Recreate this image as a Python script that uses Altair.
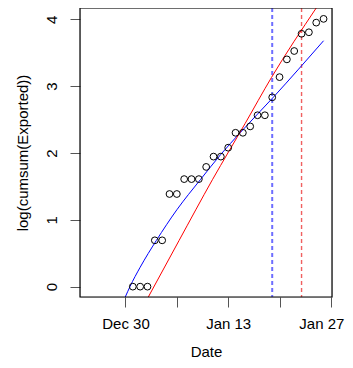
import altair as alt
import numpy as np
import pandas as pd

# Observed points: dates and cumulative exported counts
obs_dates = ["2019-12-31", "2020-01-01", "2020-01-02", "2020-01-03", "2020-01-04",
             "2020-01-05", "2020-01-06", "2020-01-07", "2020-01-08", "2020-01-09",
             "2020-01-10", "2020-01-11", "2020-01-12", "2020-01-13", "2020-01-14",
             "2020-01-15", "2020-01-16", "2020-01-17", "2020-01-18", "2020-01-19",
             "2020-01-20", "2020-01-21", "2020-01-22", "2020-01-23", "2020-01-24",
             "2020-01-25", "2020-01-26"]
cum_exported = [1, 1, 1, 2, 2, 4, 4, 5, 5, 5, 6, 7, 7, 8, 10, 10, 11, 13, 13, 17,
                23, 30, 34, 44, 45, 52, 55]

# Fitted curves (days since Dec 30, log value)
blue_t = [-0.03, 0.61, 2.0, 4.2, 7.0, 10.2, 13.0, 15.6, 20.2, 27.0]
blue_y = [-0.155, 0.0, 0.29, 0.69, 1.15, 1.60, 1.98, 2.30, 2.84, 3.68]
red_t = [3.11, 7.3, 11.85, 16.3, 19.9, 26.0]
red_y = [-0.155, 0.69, 1.60, 2.44, 3.13, 4.17]

# Vertical reference lines (days since Dec 30)
vline_t = [20, 24]
vline_color = ["#6e6eff", "#f06060"]
vline_width = [2.0, 1.4]

# Axis ticks
x_tick_vals = [0, 7, 14, 21, 28]
x_tick_labels = ["Dec 30", "", "Jan 13", "", "Jan 27"]
y_tick_vals = [0, 1, 2, 3, 4]

origin = pd.Timestamp("2019-12-30")
pts = pd.DataFrame({
    "t": [(pd.Timestamp(d) - origin).days for d in obs_dates],
    "y": np.log(cum_exported),
})
blue = pd.DataFrame({"t": blue_t, "y": blue_y})
red = pd.DataFrame({"t": red_t, "y": red_y})

FONT = "Liberation Sans"
xdom = [-6.2, 28.15]
ydom = [-0.155, 4.17]

label_map = "{" + ",".join(f"'{v}':'{l}'" for v, l in zip(x_tick_vals, x_tick_labels)) + "}"

xscale = alt.Scale(domain=xdom, nice=False, zero=False)
yscale = alt.Scale(domain=ydom, nice=False, zero=False)

xaxis = alt.Axis(values=x_tick_vals, labelExpr=f"{label_map}[datum.value]",
                 title="Date", grid=False, domain=False, tickSize=10,
                 tickColor="#555555", labelFont=FONT, labelFontSize=15,
                 labelColor="black", titleFont=FONT, titleFontSize=15,
                 titleFontWeight="normal", labelPadding=9, titlePadding=13,
                 labelFlush=4, labelFlushOffset=13, labelOverlap=False)
yaxis = alt.Axis(values=y_tick_vals, format="d", title="log(cumsum(Exported))",
                 grid=False, domain=False, tickSize=10, tickColor="#555555",
                 labelFont=FONT, labelFontSize=15, labelColor="black",
                 labelAngle=-90, labelAlign="center", labelBaseline="bottom",
                 labelPadding=11, titleFont=FONT, titleFontSize=15,
                 titleFontWeight="normal", titlePadding=14, labelFlush=False)

points = alt.Chart(pts).mark_point(shape="circle", filled=False, color="black",
                                   size=46, strokeWidth=1, opacity=1).encode(
    x=alt.X("t:Q", scale=xscale, axis=xaxis),
    y=alt.Y("y:Q", scale=yscale, axis=yaxis),
)

blue_line = alt.Chart(blue).mark_line(color="#0000ff", strokeWidth=1, clip=True,
                                      interpolate="monotone").encode(
    x=alt.X("t:Q", scale=xscale), y=alt.Y("y:Q", scale=yscale))
red_line = alt.Chart(red).mark_line(color="#ff0000", strokeWidth=1, clip=True,
                                    interpolate="monotone").encode(
    x=alt.X("t:Q", scale=xscale), y=alt.Y("y:Q", scale=yscale))

vdf = pd.DataFrame({"t": vline_t, "c": vline_color, "w": vline_width})
vlines = alt.Chart(vdf).mark_rule(strokeDash=[4, 3]).encode(
    x=alt.X("t:Q", scale=xscale),
    color=alt.Color("c:N", scale=None),
    strokeWidth=alt.StrokeWidth("w:Q", scale=None),
)

# Box around plot area
box = alt.Chart(pd.DataFrame({"a": [0]})).mark_rect(
    fill=None, stroke="black", strokeWidth=1.2).encode(
    x=alt.value(0), x2=alt.value(252), y=alt.value(0), y2=alt.value(289))

chart = alt.layer(vlines, blue_line, red_line, points, box).properties(
    width=252, height=289,
    autosize=alt.AutoSizeParams(type="none"),
    padding={"left": 72, "top": 0, "right": 13, "bottom": 63},
).configure_view(stroke=None).configure(background="white")

chart.save("out.html", embed_options={"renderer": "svg", "actions": False})
